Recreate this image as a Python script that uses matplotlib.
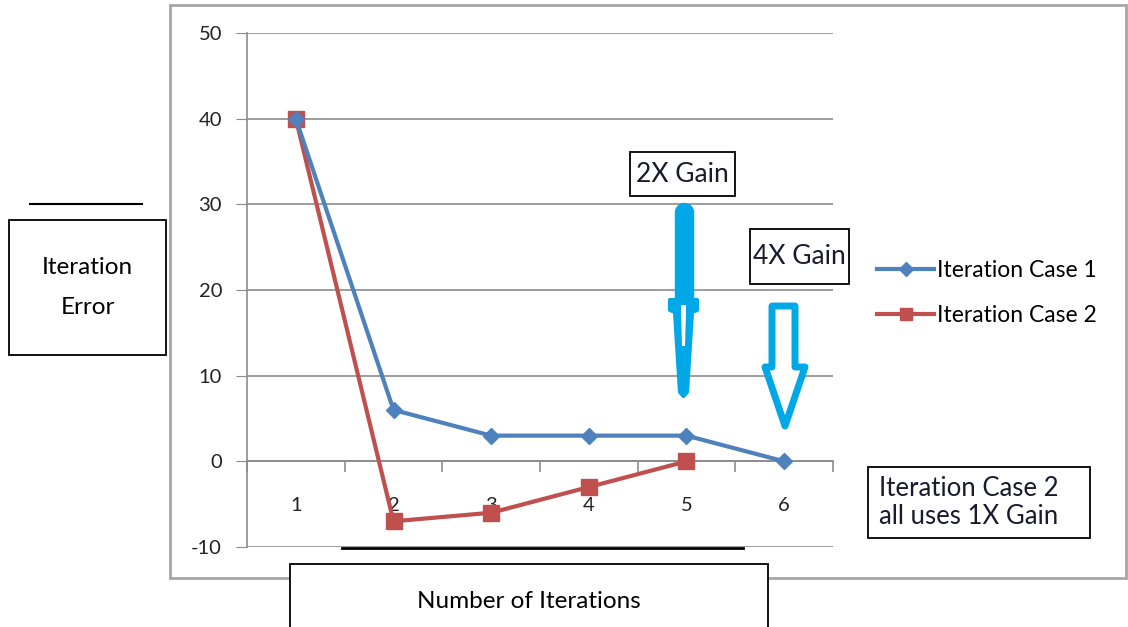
import matplotlib
matplotlib.use('Agg')
import matplotlib.pyplot as plt
from matplotlib.patches import Rectangle, Polygon

plt.rcParams['font.family'] = ['Lato', 'DejaVu Sans']
plt.rcParams['axes.unicode_minus'] = False

iterations = [1, 2, 3, 4, 5, 6]
case1 = [40, 6, 3, 3, 3, 0]
case2_iter = [1, 2, 3, 4, 5]
case2 = [40, -7, -6, -3, 0]
yticks = [-10, 0, 10, 20, 30, 40, 50]

W, H = 1128, 627
fig = plt.figure(figsize=(W / 100, H / 100), dpi=100)

# main plot area (pixel positions)
ax = fig.add_axes([247 / W, (H - 547) / H, (833 - 247) / W, (547 - 33) / H])
ax.set_xlim(0.5, 6.5)
ax.set_ylim(-10, 50)

ax.plot(iterations, case1, color='#4F81BD', lw=3, marker='D', ms=8,
        label='Iteration Case 1', zorder=4)
ax.plot(case2_iter, case2, color='#C0504D', lw=3, marker='s', ms=11,
        label='Iteration Case 2', zorder=3)

ax.set_yticks(yticks)
ax.yaxis.grid(True, color='#8c8c8c', lw=1.2)
ax.set_axisbelow(True)
ax.tick_params(axis='y', direction='out', length=8, color='#8c8c8c',
               labelsize=14.5, pad=10, labelcolor='#222222')

# category axis sits at y = 0
ax.spines['bottom'].set_position(('data', 0))
ax.spines['bottom'].set_color('#8c8c8c')
ax.spines['bottom'].set_linewidth(1.2)
ax.spines['left'].set_color('#8c8c8c')
ax.spines['left'].set_linewidth(1.2)
ax.spines['top'].set_visible(False)
ax.spines['right'].set_visible(False)
ax.set_xticks(iterations)
ax.set_xticks([i + 0.5 for i in range(7)], minor=True)
ax.tick_params(axis='x', which='major', length=0, labelsize=14.5, pad=26,
               labelcolor='#222222')
ax.tick_params(axis='x', which='minor', direction='out', length=8,
               color='#8c8c8c', width=1.2)

fig.legend(loc='center left', bbox_to_anchor=(868 / W, (H - 293) / H),
           frameon=False, fontsize=16.5, handlelength=2.5, labelspacing=1.05,
           handletextpad=0.1, borderaxespad=0, markerscale=0.85)

# overlay in pixel coordinates for frame, boxes and arrows
ov = fig.add_axes([0, 0, 1, 1], zorder=5)
ov.set_xlim(0, W)
ov.set_ylim(H, 0)
ov.axis('off')
ov.patch.set_alpha(0)

ov.add_patch(Rectangle((170, 5), 956, 573, fill=False, ec='#a6a6a6', lw=2))

def box(x0, y0, x1, y1, text, fs, color='black', tx=None, ha='center', **kw):
    ov.add_patch(Rectangle((x0, y0), x1 - x0, y1 - y0, fc='white',
                           ec='black', lw=1.3))
    if tx is None:
        tx = (x0 + x1) / 2
    ov.text(tx, (y0 + y1) / 2, text, ha=ha, va='center',
            fontsize=fs, color=color, **kw)

box(9, 220, 166, 355, 'Iteration\n\nError', 17.5, linespacing=0.95)
ov.plot([30, 142], [204, 204], color='black', lw=1.5)
ov.plot([342, 743], [548, 548], color='black', lw=2)
box(290, 564, 768, 640, 'Number of Iterations', 17.5)
box(630, 152, 735, 196, '2X Gain', 19, color='#1a1a2e')
box(750, 229, 849, 284, '4X Gain', 19, color='#1a1a2e')
box(868, 467, 1090, 538, 'Iteration Case 2\nall uses 1X Gain', 18.5,
    color='#1a1a2e', tx=879, ha='left', linespacing=1.2)

cyan = '#00A8E8'
# 2X gain arrow: thick bar then narrow hollow head
ov.plot([683.5, 683.5], [212, 300], color=cyan, lw=14, solid_capstyle='round')
ov.add_patch(Polygon([(670, 300), (697, 300), (697, 310), (692, 312),
                      (687, 392), (683.5, 396), (680, 392), (675, 312),
                      (670, 310)], closed=True, fc=cyan, ec=cyan, lw=3,
                     joinstyle='round', zorder=3))
ov.add_patch(Polygon([(681, 305), (686, 305), (686, 312), (685, 346),
                      (682, 346), (681, 312)], closed=True, fc='white',
                     ec='none', zorder=4))
# 4X gain arrow: hollow block arrow
ov.add_patch(Polygon([(772, 306), (795, 306), (795, 367), (805, 367),
                      (785, 426), (765, 367), (772, 367)], closed=True,
                     fc='white', ec=cyan, lw=5, joinstyle='round', zorder=3))

fig.savefig('out.png', dpi=100)
